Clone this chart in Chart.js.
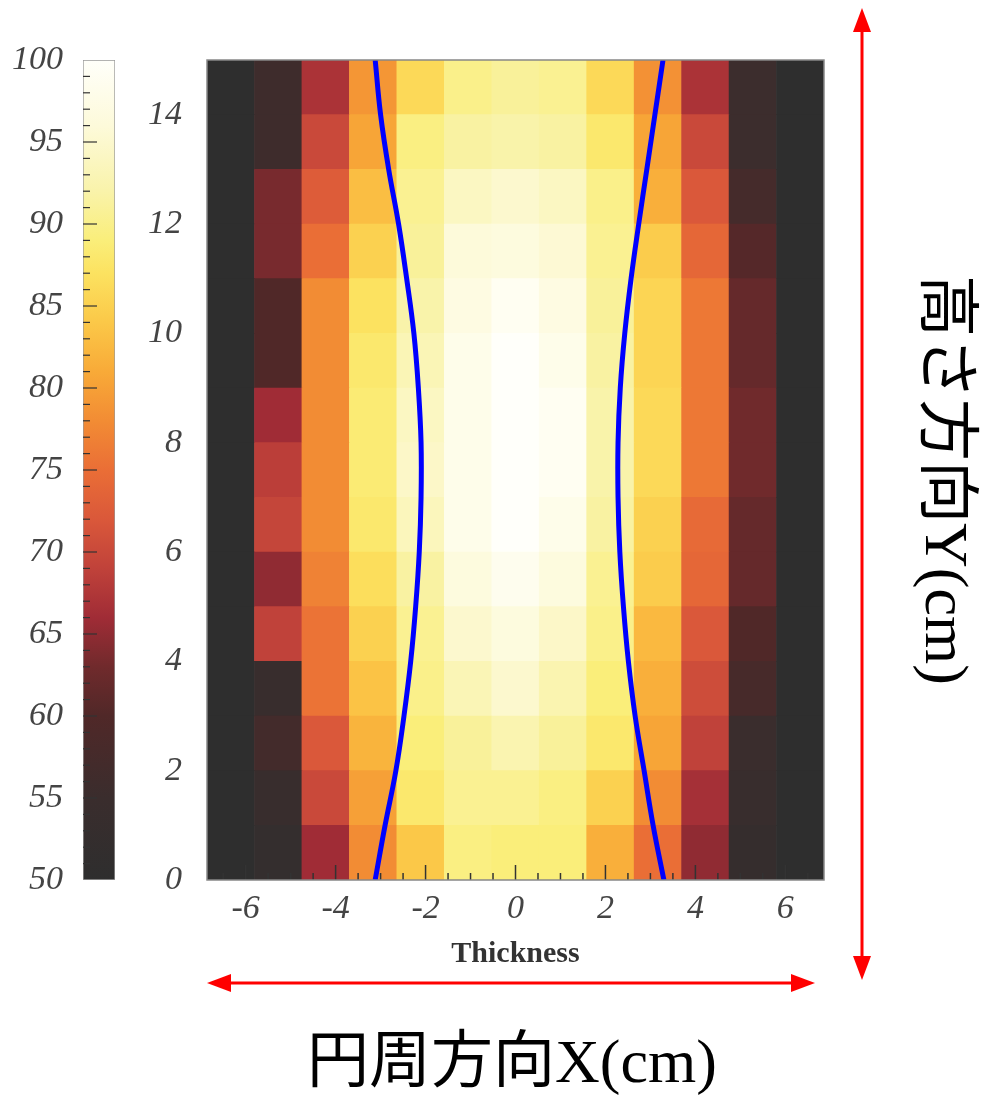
<!DOCTYPE html>
<html>
<head>
<meta charset="utf-8">
<script src="https://cdn.jsdelivr.net/npm/chart.js@4.4.1/dist/chart.umd.min.js"></script>
<style>
  body { margin: 0; background: #fff; }
  #wrap { position: relative; width: 981px; height: 1099px; }
  #wrap canvas { position: absolute; left: 0; top: 0; }
</style>
</head>
<body>
<div id="wrap">
  <canvas id="heat" width="981" height="1099"></canvas>
  <canvas id="bar" width="140" height="1099"></canvas>
</div>
<script>
// column centres along Thickness (cm), 13 cells
var colCenters = ['-6.33', '-5.28', '-4.22', '-3.17', '-2.11', '-1.06', '0', '1.06', '2.11', '3.17', '4.22', '5.28', '6.33'];

// cell values, one array per 1 cm row, bottom (0-1) to top (14-15)
var row00 = [50, 52.5, 66, 78, 84, 89.5, 89, 89, 81.5, 75, 65, 53, 50];
var row01 = [50, 54, 70, 80, 88, 90.5, 90.5, 89.5, 85, 78, 66.5, 54, 50];
var row02 = [50, 57, 72, 82, 89, 91, 92.5, 91, 88, 80.5, 69, 55, 50];
var row03 = [50, 54, 75.5, 83.5, 90, 93, 95, 92.5, 89, 81.5, 70.5, 58, 50];
var row04 = [50, 69, 75.5, 85, 90.5, 95, 96.5, 94.5, 90, 82.5, 72, 60, 50];
var row05 = [50, 65, 77, 86.5, 91.5, 96.5, 98.5, 96.5, 90.5, 84.5, 74, 62, 50];
var row06 = [50, 69.5, 78, 88, 93.5, 98, 100, 98, 91.5, 85, 74.5, 62, 50];
var row07 = [50, 68.5, 78, 88.5, 94.5, 98, 100, 99, 92, 86, 76, 63, 50];
var row08 = [50, 66, 78, 88.5, 94, 98, 100, 99, 92, 86, 76, 63, 50];
var row09 = [50, 60, 78, 88, 93, 98, 100, 98, 91.5, 85.5, 76, 62, 50];
var row10 = [50, 60, 78, 87, 92, 97, 99, 97, 91, 85.5, 76, 62, 50];
var row11 = [50, 63.5, 75, 85, 91, 96, 96.5, 95.5, 90.5, 84.5, 74, 60.5, 50];
var row12 = [50, 63.5, 72.5, 83, 90.5, 94, 95, 94, 90, 81.5, 72, 57.5, 50];
var row13 = [50, 56, 70, 80.5, 89.5, 91.5, 92, 91.5, 88, 80.5, 70, 55.5, 50];
var row14 = [50, 56, 67, 79, 86, 90, 91, 90.5, 86, 78.5, 67, 55.5, 50];
var rows = [row00, row01, row02, row03, row04, row05, row06, row07, row08, row09, row10, row11, row12, row13, row14];

// blue boundary curves
var leftCurveY  = [0, 1, 2, 3, 4, 5, 6, 7, 8, 9, 10, 11, 12, 13, 14, 15];
var leftCurveX  = [-3.12, -2.9, -2.66, -2.48, -2.33, -2.22, -2.14, -2.1, -2.1, -2.16, -2.26, -2.42, -2.6, -2.82, -3.0, -3.12];
var rightCurveY = [0, 1, 2, 3, 4, 5, 6, 7, 8, 9, 10, 11, 12, 13, 14, 15];
var rightCurveX = [3.3, 3.06, 2.86, 2.66, 2.51, 2.4, 2.32, 2.28, 2.28, 2.33, 2.43, 2.57, 2.74, 2.92, 3.1, 3.28];

// colour scale
var cbMin = 50, cbMax = 100;
var stops = [
  [50, [46, 46, 46]],
  [55, [58, 45, 45]],
  [60, [80, 40, 40]],
  [63, [112, 42, 44]],
  [66, [160, 44, 54]],
  [69, [192, 66, 58]],
  [72, [218, 88, 58]],
  [75, [234, 110, 54]],
  [78, [242, 140, 52]],
  [81, [248, 170, 56]],
  [84, [251, 200, 72]],
  [87, [252, 226, 96]],
  [89, [250, 238, 122]],
  [92, [249, 243, 170]],
  [96, [253, 250, 218]],
  [100, [255, 255, 250]]
];

function rgbStr(c) { return 'rgb(' + c.map(Math.round).join(',') + ')'; }

function heatColor(v) {
  if (v <= stops[0][0]) return rgbStr(stops[0][1]);
  for (var i = 1; i < stops.length; i++) {
    if (v <= stops[i][0]) {
      var a = stops[i - 1], b = stops[i];
      var t = (v - a[0]) / (b[0] - a[0]);
      return rgbStr([0, 1, 2].map(function (k) { return a[1][k] + (b[1][k] - a[1][k]) * t; }));
    }
  }
  return rgbStr(stops[stops.length - 1][1]);
}

var serif = '"Liberation Serif", "Times New Roman", serif';
var tickFont = { family: serif, style: 'italic', size: 34 };

var datasets = rows.map(function (vals, r) {
  return {
    type: 'bar',
    xAxisID: 'xc',
    yAxisID: 'y',
    order: 1,
    data: vals.map(function () { return [r, r + 1]; }),
    backgroundColor: vals.map(heatColor),
    borderWidth: 0,
    barPercentage: 1,
    categoryPercentage: 1,
    grouped: false
  };
});

function curve(xs, ys) {
  return {
    type: 'line',
    xAxisID: 'x',
    yAxisID: 'y',
    order: 0,
    data: ys.map(function (y, i) { return { x: xs[i], y: y }; }),
    borderColor: '#0000ff',
    borderWidth: 5,
    pointRadius: 0,
    tension: 0.4,
    fill: false
  };
}
datasets.push(curve(leftCurveX, leftCurveY));
datasets.push(curve(rightCurveX, rightCurveY));

function arrow(c, x1, y1, x2, y2) {
  var ang = Math.atan2(y2 - y1, x2 - x1);
  var len = 24, half = 9;
  c.beginPath();
  c.moveTo(x1 + Math.cos(ang) * len, y1 + Math.sin(ang) * len);
  c.lineTo(x2 - Math.cos(ang) * len, y2 - Math.sin(ang) * len);
  c.stroke();
  [[x1, y1, ang + Math.PI], [x2, y2, ang]].forEach(function (p) {
    var tx = p[0], ty = p[1], a = p[2];
    c.beginPath();
    c.moveTo(tx, ty);
    c.lineTo(tx - Math.cos(a) * len - Math.sin(a) * half, ty - Math.sin(a) * len + Math.cos(a) * half);
    c.lineTo(tx - Math.cos(a) * len + Math.sin(a) * half, ty - Math.sin(a) * len - Math.cos(a) * half);
    c.closePath();
    c.fill();
  });
}

var overlay = {
  id: 'overlay',
  afterDraw: function (chart) {
    var c = chart.ctx, a = chart.chartArea, xs = chart.scales.x;
    c.save();
    // inward ticks on the Thickness axis
    c.strokeStyle = '#333';
    c.lineWidth = 1.5;
    for (var v = -6.5; v <= 6.5; v += 0.5) {
      var px = xs.getPixelForValue(v);
      var l = (v % 2 === 0) ? 15 : 7;
      c.beginPath();
      c.moveTo(px, a.bottom);
      c.lineTo(px, a.bottom - l);
      c.stroke();
    }
    // frame
    c.strokeStyle = '#888';
    c.lineWidth = 1.5;
    c.strokeRect(a.left, a.top, a.right - a.left, a.bottom - a.top);

    // red arrows
    c.strokeStyle = '#ff0000';
    c.fillStyle = '#ff0000';
    c.lineWidth = 3;
    arrow(c, 207, 983, 815, 983);
    arrow(c, 862, 8, 862, 980);

    // outer labels
    c.fillStyle = '#000';
    c.font = '62px ' + serif + ', "Noto Sans CJK JP"';
    c.textAlign = 'center';
    c.textBaseline = 'middle';
    c.fillText('円周方向X(cm)', 512, 1066);
    c.translate(942, 480);
    c.rotate(Math.PI / 2);
    c.fillText('高さ方向Y(cm)', 0, 0);
    c.restore();
  }
};

new Chart(document.getElementById('heat'), {
  type: 'bar',
  data: { labels: colCenters, datasets: datasets },
  options: {
    responsive: false,
    animation: false,
    layout: { padding: { left: 147, right: 157, top: 60, bottom: 109 } },
    plugins: { legend: { display: false }, tooltip: { enabled: false } },
    scales: {
      xc: { type: 'category', labels: colCenters, display: false, offset: true },
      x: {
        type: 'linear',
        position: 'bottom',
        offset: false,
        min: -6.86,
        max: 6.86,
        grid: { display: false, drawTicks: false, offset: false },
        border: { display: false },
        ticks: { stepSize: 2, includeBounds: false, padding: 9, font: tickFont, color: '#444' },
        title: {
          display: true,
          text: 'Thickness',
          color: '#333',
          font: { family: serif, weight: 'bold', size: 30 },
          padding: { top: 0, bottom: 18 }
        },
        afterFit: function (s) { s.height = 110; }
      },
      y: {
        type: 'linear',
        min: 0,
        max: 15,
        grid: { display: false, drawTicks: false },
        border: { display: false },
        ticks: { stepSize: 2, includeBounds: false, padding: 25, font: tickFont, color: '#444' },
        afterFit: function (s) { s.width = 60; }
      }
    }
  },
  plugins: [overlay]
});

// colour bar
var cbTicks = {
  id: 'cbTicks',
  afterDatasetsDraw: function (chart) {
    var c = chart.ctx, a = chart.chartArea, ys = chart.scales.y;
    c.save();
    c.strokeStyle = '#333';
    c.lineWidth = 1.2;
    for (var v = cbMin + 1; v < cbMax; v++) {
      var py = ys.getPixelForValue(v);
      var l = (v % 5 === 0) ? 14 : 7;
      c.beginPath();
      c.moveTo(a.left, py);
      c.lineTo(a.left + l, py);
      c.stroke();
    }
    c.restore();
  }
};

new Chart(document.getElementById('bar'), {
  type: 'bar',
  data: {
    labels: [''],
    datasets: [{
      data: [[cbMin, cbMax]],
      backgroundColor: function (ctx) {
        var ch = ctx.chart;
        if (!ch.chartArea) return '#888';
        var ys = ch.scales.y;
        var g = ch.ctx.createLinearGradient(0, ys.getPixelForValue(cbMin), 0, ys.getPixelForValue(cbMax));
        stops.forEach(function (s) { g.addColorStop((s[0] - cbMin) / (cbMax - cbMin), rgbStr(s[1])); });
        return g;
      },
      borderColor: '#999',
      borderWidth: 1,
      borderSkipped: false,
      barPercentage: 1,
      categoryPercentage: 1
    }]
  },
  options: {
    responsive: false,
    animation: false,
    layout: { padding: { left: 0, right: 25, top: 60, bottom: 219 } },
    plugins: { legend: { display: false }, tooltip: { enabled: false } },
    scales: {
      x: { display: false },
      y: {
        min: cbMin,
        max: cbMax,
        grid: { display: false, drawTicks: false },
        border: { display: false },
        ticks: { stepSize: 5, padding: 20, font: tickFont, color: '#444' },
        afterFit: function (s) { s.width = 83; }
      }
    }
  },
  plugins: [cbTicks]
});
</script>
</body>
</html>
